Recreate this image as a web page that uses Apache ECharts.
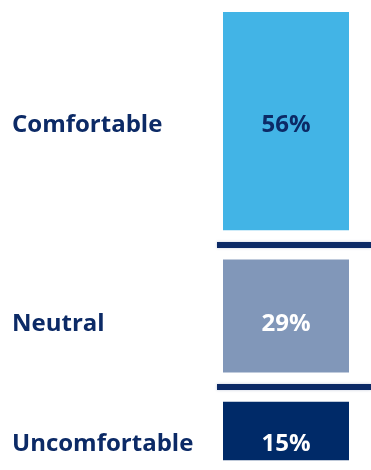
<!DOCTYPE html>
<html>
<head>
    <meta charset="utf-8">
    <title>Comfort</title>
    <script src="https://cdn.jsdelivr.net/npm/echarts@6/dist/echarts.min.js"></script>
    <style>
        html, body { margin: 0; padding: 0; background: #fff; }
        #chartmain { width: 371px; height: 470px; }
    </style>
</head>
<body>
<div id="chartmain"></div>
<script type="text/javascript">
    // 数据
    var categories = ['Comfortable', 'Neutral', 'Uncomfortable'];
    var shares = [56, 29, 15];

    // 样式
    var barColors = ['#42b4e6', '#8197b9', '#002a68'];
    var pctColors = ['#0c2a66', '#ffffff', '#ffffff'];
    var labelPos = ['52%', '57%', '72%'];   // label line inside each block
    var navy = '#0c2a66';
    var gap = 7.5;                          // blank space between blocks, in axis units

    var series = [];
    var cum = 0;
    for (var i = 0; i < categories.length; i++) {
        series.push({
            name: categories[i],
            type: 'bar',
            stack: 'all',
            barWidth: '100%',
            data: [shares[i]],
            itemStyle: { color: barColors[i] },
            label: {
                show: true,
                position: [-211, labelPos[i]],
                align: 'left',
                verticalAlign: 'middle',
                formatter: '{n|' + categories[i] + '}{p|' + shares[i] + '%}',
                rich: {
                    n: { width: 211, align: 'left', color: navy, fontSize: 24, fontWeight: 'bold', fontFamily: 'Open Sans' },
                    p: { width: 126, align: 'center', color: pctColors[i], fontSize: 24, fontWeight: 'bold', fontFamily: 'Open Sans' }
                }
            }
        });
        cum += shares[i];
        if (i < categories.length - 1) {
            var mid = cum + gap / 2;
            series.push({
                name: 'gap' + i,
                type: 'bar',
                stack: 'all',
                barWidth: '100%',
                data: [gap],
                itemStyle: { color: 'transparent' },
                silent: true,
                markLine: {
                    silent: true,
                    symbol: 'none',
                    label: { show: false },
                    lineStyle: { color: navy, width: 6, type: 'solid', shadowColor: 'rgba(12,42,102,0.25)', shadowBlur: 3 },
                    data: [[{ x: 217, yAxis: mid }, { x: 371, yAxis: mid }]]
                }
            });
            cum += gap;
        }
    }

    var myChart = echarts.init(document.getElementById('chartmain'));
    var option = {
        animation: false,
        grid: { left: 223, right: 22, top: 12, bottom: 0, containLabel: false },
        xAxis: { type: 'category', data: ['all'], show: false },
        yAxis: { type: 'value', inverse: true, min: 0, max: 117.5, show: false },
        series: series
    };
    myChart.setOption(option);
</script>
</body>
</html>
